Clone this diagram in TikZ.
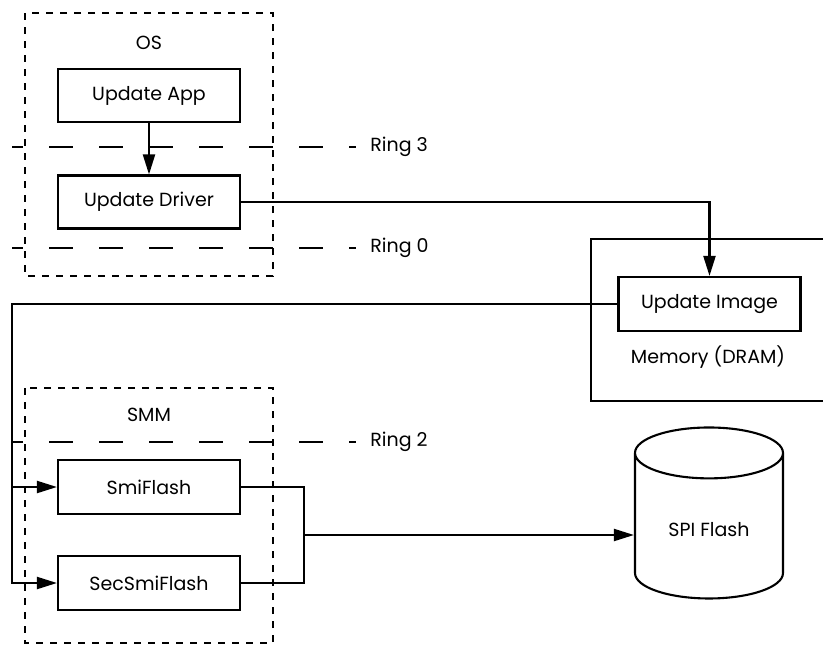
\documentclass[tikz,border=0pt]{standalone}
\usepackage{fontspec}
\setmainfont{Poppins}
\usetikzlibrary{arrows.meta,shapes.geometric}
\begin{document}
\begin{tikzpicture}[x=1pt, y=-1pt, font=\fontsize{19}{21}\selectfont, line width=2.1pt]
    % Styles
    \tikzstyle{proc} = [rectangle, minimum width=182pt, minimum height=53pt, text centered, draw=black]
    \tikzstyle{zone} = [line width=2pt, dash pattern=on 7pt off 7pt]
    \tikzstyle{ring} = [line width=2pt, dash pattern=on 24pt off 26pt, dash phase=13pt]
    \tikzstyle{arrow} = [-{Triangle[length=20pt,width=12pt]}]

    \useasboundingbox (0,0) rectangle (823,646);

    % Zones and rings
    \draw [zone] (25,13) rectangle (273,276);
    \draw [zone] (25,388) rectangle (273,643);
    \draw [ring] (12,147) -- (356,147);
    \draw [ring] (12,248) -- (356,248);
    \draw [ring] (12,442) -- (356,442);
    \draw (823,239) -- (591,239) -- (591,401) -- (823,401);

    % Nodes
    \node (os) at (149,43) {OS};
    \node (app) [proc] at (149,95.5) {Update App};
    \node (driver) [proc, below of=app, node distance=106.5pt] {Update Driver};
    \node (smm) at (149,415) {SMM};
    \node (smi) [proc, minimum height=54pt] at (149,487) {SmiFlash};
    \node (secsmi) [proc, minimum height=54pt, below of=smi, node distance=96pt] {SecSmiFlash};
    \node (image) [proc, minimum height=54pt] at (709.5,304) {Update Image};
    \node (mem) at (708,357) {Memory (DRAM)};
    \node (spi) [cylinder, shape border rotate=90, draw, minimum height=171pt, minimum width=148pt, aspect=0.58] at (709,530) {SPI Flash};
    \node (r3) [anchor=west] at (366,147) {Ring 3};
    \node (r0) [anchor=west] at (366,248) {Ring 0};
    \node (r2) [anchor=west] at (366,442) {Ring 2};
    \coordinate (bus) at (12,0);
    \coordinate (jn) at (304,535);

    % Arrows
    \draw [arrow] (app) -- (driver);
    \draw [arrow] (driver.east) -| (image.north);
    \draw [arrow] (image.west) -| (secsmi.west -| bus) -- (secsmi.west);
    \draw [arrow] (smi.west -| bus) -- (smi.west);
    \draw (smi.east) -| (jn |- secsmi.east) -- (secsmi.east);
    \draw [arrow] (jn) -- (jn -| spi.west);

\end{tikzpicture}
\end{document}
